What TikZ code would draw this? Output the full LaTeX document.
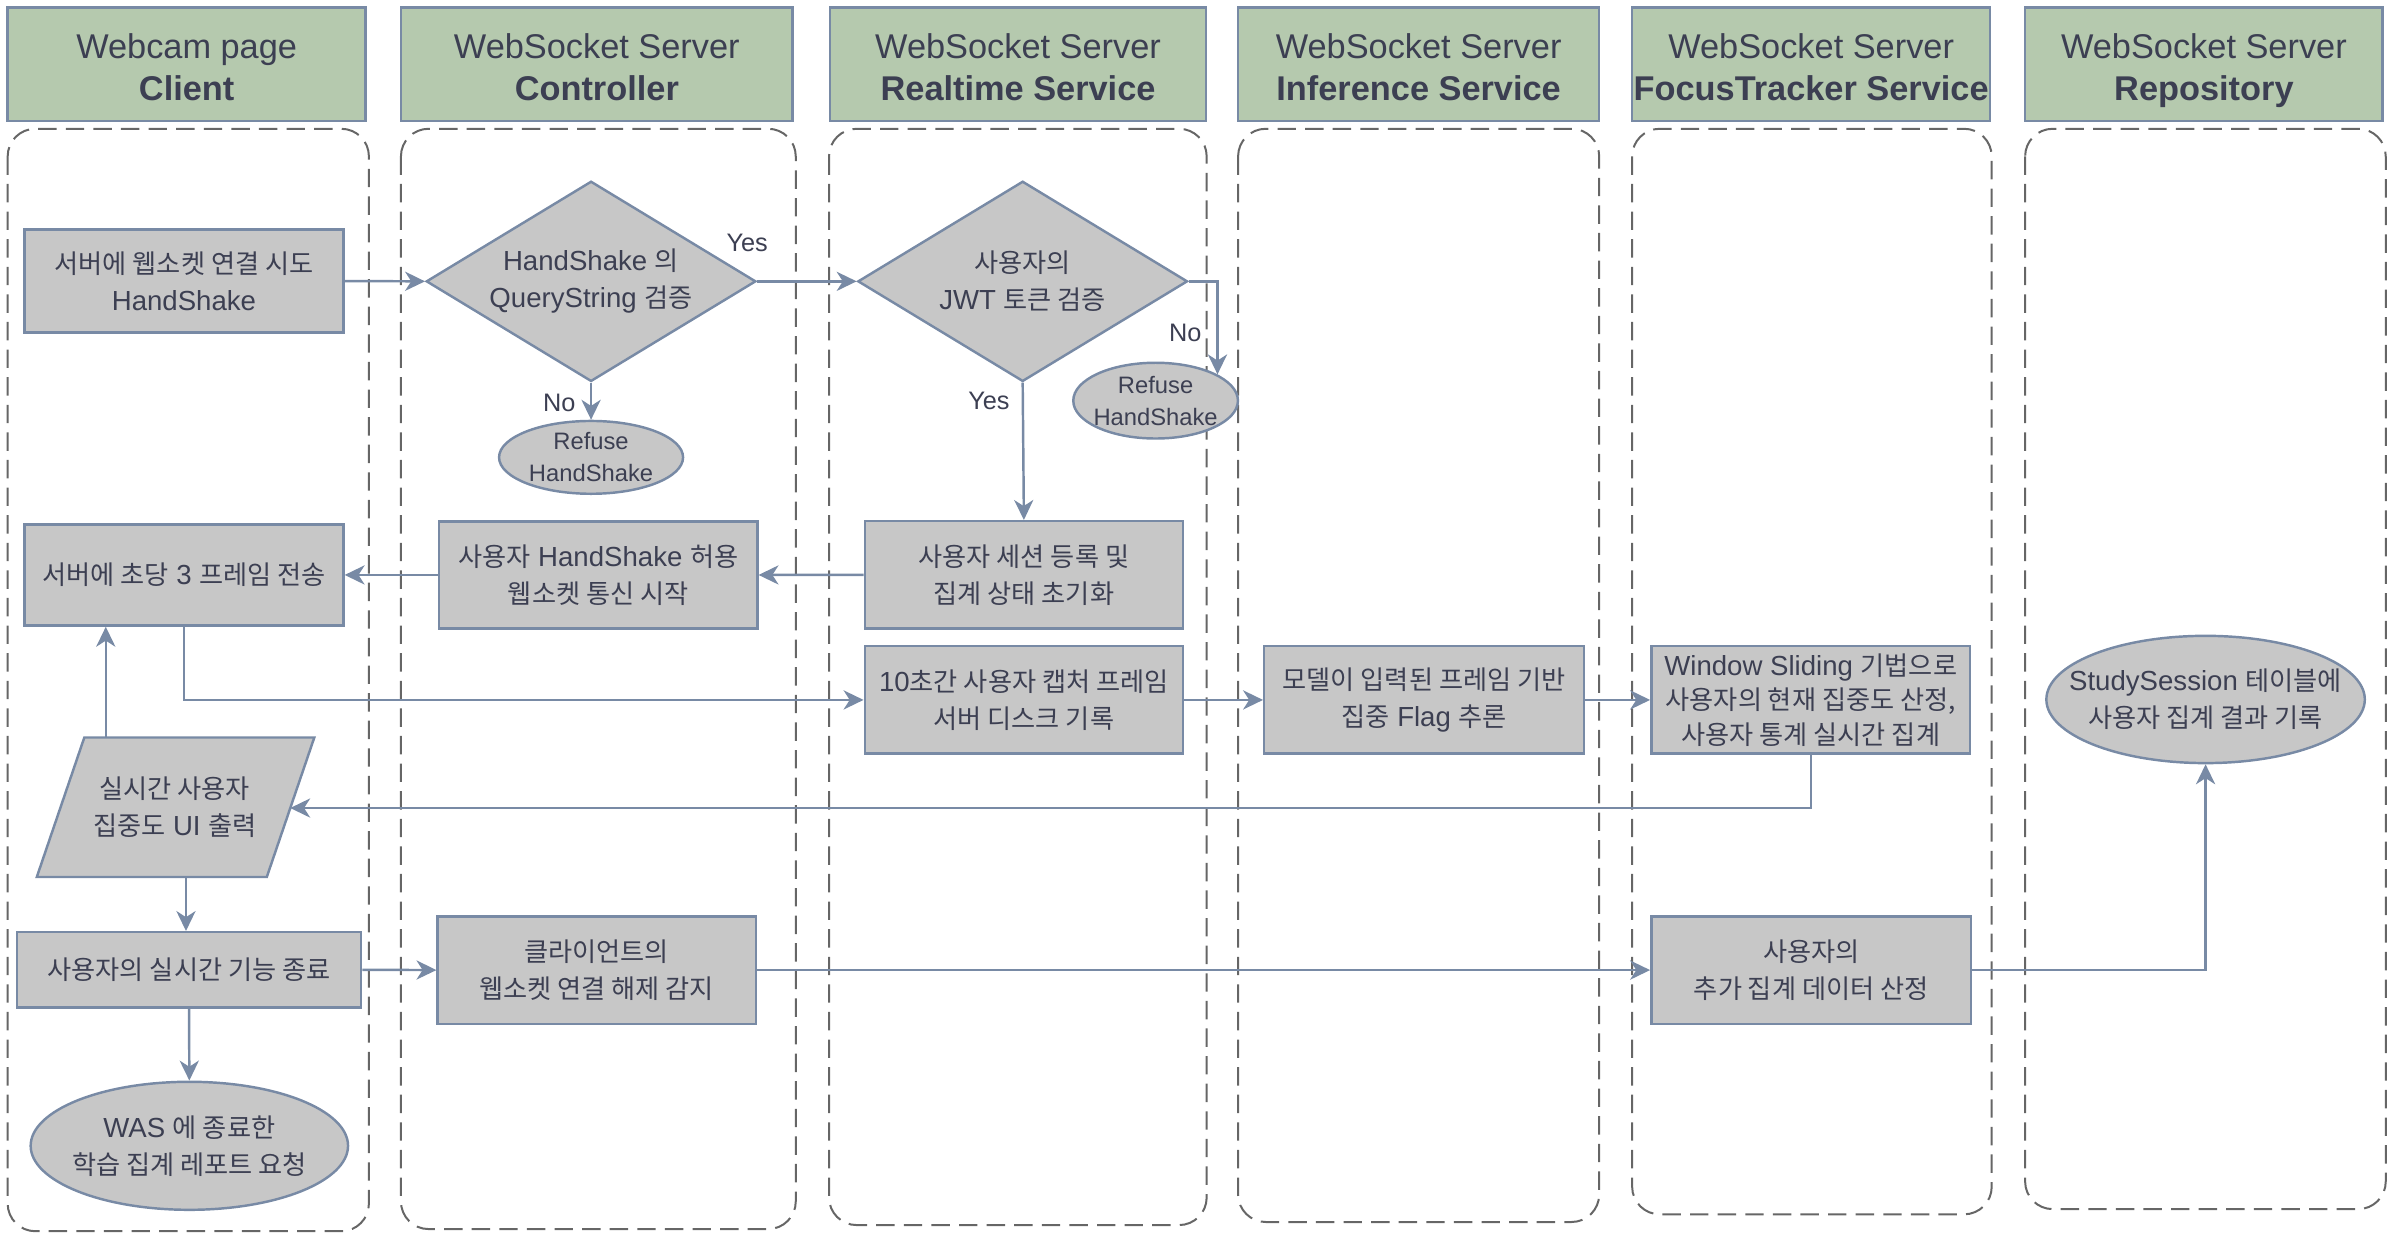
\documentclass[tikz,border=0pt]{standalone}
\usepackage{fontspec}
\setmainfont{Liberation Sans}
\newfontfamily\kr[Scale=0.95]{Noto Sans CJK KR}
\usetikzlibrary{arrows.meta,shapes.geometric}

\definecolor{hdfill}{HTML}{B5C9AE}
\definecolor{boxfill}{HTML}{C7C7C7}
\definecolor{edgec}{HTML}{788AA5}
\definecolor{lanec}{HTML}{666666}
\definecolor{txtc}{HTML}{3C3F52}

% header text: first line raised strut, second line with descender room
\newcommand{\hdtext}[2]{\rule{0pt}{24.5pt}#1\\\textbf{#2}\vphantom{p}}

\tikzset{
  header/.style={draw=edgec, line width=1.6pt, fill=hdfill, text=txtc, align=center, inner sep=0pt, font=\fontsize{22.4}{27}\selectfont},
  lane/.style={draw=lanec, line width=1.3pt, dash pattern=on 12pt off 6pt, rounded corners=18pt},
  procbox/.style={draw=edgec, line width=1.6pt, fill=boxfill, text=txtc, align=center, inner sep=1pt, font=\fontsize{18}{24}\selectfont},
  decision/.style={diamond, aspect=1.65, draw=edgec, line width=1.6pt, fill=boxfill, text=txtc, align=center, inner sep=0pt, font=\fontsize{18}{24}\selectfont},
  terminal/.style={ellipse, draw=edgec, line width=1.6pt, fill=boxfill, inner sep=0pt},
  termtext/.style={text=txtc, align=center, font=\fontsize{18}{24}\selectfont},
  refusetext/.style={text=txtc, align=center, font=\fontsize{15.5}{21}\selectfont},
  boxtext/.style={text=txtc, align=center, font=\fontsize{18}{24}\selectfont},
  edgelabel/.style={text=txtc, inner sep=0pt, font=\fontsize{16.5}{20}\selectfont},
  arr/.style={draw=edgec, line width=1.6pt, -{Stealth[length=13pt,width=12.5pt,inset=4pt]}},
}

\begin{document}
\begin{tikzpicture}[x=1pt,y=-1pt]
\useasboundingbox (0,0) rectangle (1564,810);

%%%%%%%%%%%%%%%%%%%%%%%%%%%%%%%%%%%%%%%%%%%%%%%%%%%%%%%%%%%%%%%%%
%%%%%%%%%%%%%%%%%%%%%%%%%%%%%% lanes
\draw [lane] (5,84) rectangle (240.6,803);
\draw [lane] (261.5,84) rectangle (519,801.6);
\draw [lane] (540.7,84) rectangle (787,799);
\draw [lane] (807.5,84) rectangle (1043,797);
\draw [lane] (1064.5,84) rectangle (1299,792);
\draw [lane] (1320.8,84) rectangle (1556,788.6);

\node [header, minimum width=233.5pt, minimum height=74pt] (hdclient) at (121.75,42) {\hdtext{Webcam page}{Client}};
\node [header, minimum width=255.5pt, minimum height=74pt] (hdctrl) at (389.25,42) {\hdtext{WebSocket Server}{Controller}};
\node [header, minimum width=245pt, minimum height=74pt] (hdrt) at (664,42) {\hdtext{WebSocket Server}{Realtime Service}};
\node [header, minimum width=235.5pt, minimum height=74pt] (hdinf) at (925.25,42) {\hdtext{WebSocket Server}{Inference Service}};
\node [header, minimum width=233.5pt, minimum height=74pt] (hdfocus) at (1181.25,42) {\hdtext{WebSocket Server}{FocusTracker Service}};
\node [header, minimum width=233.2pt, minimum height=74pt] (hdrepo) at (1437.4,42) {\hdtext{WebSocket Server}{Repository}};

%%%%%%%%%%%%%%%%%%%%%%%%%%%%%%%%%%%%%%%%%%%%%%%%%%%%%%%%%%%%%%%%%
%%%%%%%%%%%%%%%%%%%%%%%%%%%%%% client
\node [procbox, minimum width=208pt, minimum height=67pt] (connect) at (120,183.3) {{\kr 서버에 웹소켓 연결 시도}\\HandShake};
\node [procbox, minimum width=208pt, minimum height=66pt] (sendfps) at (120,375) {{\kr 서버에 초당} 3 {\kr 프레임 전송}};

\coordinate (uitl) at (55,481);
\coordinate (uitr) at (205,481);
\coordinate (uibr) at (174,572);
\coordinate (uibl) at (24,572);
\draw [procbox] (uitl) -- (uitr) -- (uibr) -- (uibl) -- cycle;
\node [boxtext] (uiout) at (114,526.5) {{\kr 실시간 사용자}\\{\kr 집중도} UI {\kr 출력}};
\coordinate (uitop) at (69,481);
\coordinate (uibot) at (121.3,572);
\coordinate (uiright) at (189.3,527);

\node [procbox, minimum width=224.6pt, minimum height=49pt] (endrt) at (123.3,632.5) {{\kr 사용자의 실시간 기능 종료}};
\node [terminal, minimum width=207pt, minimum height=83.5pt, label={[termtext]center:{WAS {\kr 에 종료한}\\{\kr 학습 집계 레포트 요청}}}] (wasreport) at (123.5,747.3) {};

%%%%%%%%%%%%%%%%%%%%%%%%%%%%%%%%%%%%%%%%%%%%%%%%%%%%%%%%%%%%%%%%%
%%%%%%%%%%%%%%%%%%%%%%%%%%%%%% controller
\node [decision, minimum width=215pt, minimum height=130.6pt] (hsdiamond) at (385.5,183.5) {HandShake {\kr 의}\\QueryString {\kr 검증}};
\node [terminal, minimum width=120pt, minimum height=47.5pt, label={[refusetext]center:{Refuse\\HandShake}}] (refuse1) at (385.5,298.3) {};
\node [procbox, minimum width=207.5pt, minimum height=70pt] (hsallow) at (390.2,375) {{\kr 사용자} HandShake {\kr 허용}\\{\kr 웹소켓 통신 시작}};
\node [procbox, minimum width=207.5pt, minimum height=70pt] (disconnect) at (389.2,632.7) {{\kr 클라이언트의}\\{\kr 웹소켓 연결 해제 감지}};

%%%%%%%%%%%%%%%%%%%%%%%%%%%%%%%%%%%%%%%%%%%%%%%%%%%%%%%%%%%%%%%%%
%%%%%%%%%%%%%%%%%%%%%%%%%%%%%% realtime service
\node [decision, minimum width=215pt, minimum height=130.6pt] (jwtdiamond) at (667,183.5) {{\kr 사용자의}\\JWT {\kr 토큰 검증}};
\node [terminal, minimum width=107.4pt, minimum height=49.4pt, label={[refusetext]center:{Refuse\\HandShake}}] (refuse2) at (753.7,261.3) {};
\node [procbox, minimum width=207.6pt, minimum height=70pt] (session) at (667.8,374.9) {{\kr 사용자 세션 등록 및}\\{\kr 집계 상태 초기화}};
\node [procbox, minimum width=207.6pt, minimum height=70pt] (capture) at (667.8,456.5) {10{\kr 초간 사용자 캡처 프레임}\\{\kr 서버 디스크 기록}};

%%%%%%%%%%%%%%%%%%%%%%%%%%%%%%%%%%%%%%%%%%%%%%%%%%%%%%%%%%%%%%%%%
%%%%%%%%%%%%%%%%%%%%%%%%%%%%%% inference / focustracker / repository
\node [procbox, minimum width=208.5pt, minimum height=70pt] (infer) at (928.8,456.5) {{\kr 모델이 입력된 프레임 기반}\\{\kr 집중} Flag {\kr 추론}};
\node [procbox, minimum width=208pt, minimum height=70pt, font=\fontsize{18}{22.5}\selectfont] (window) at (1181,456.5) {Window Sliding {\kr 기법으로}\\{\kr 사용자의 현재 집중도 산정,}\\{\kr 사용자 통계 실시간 집계}};
\node [procbox, minimum width=208.6pt, minimum height=70pt] (extra) at (1181.3,632.7) {{\kr 사용자의}\\{\kr 추가 집계 데이터 산정}};
\node [terminal, minimum width=207.7pt, minimum height=83pt, label={[termtext]center:{StudySession {\kr 테이블에}\\{\kr 사용자 집계 결과 기록}}}] (studyrec) at (1438.5,456.2) {};

%%%%%%%%%%%%%%%%%%%%%%%%%%%%%%%%%%%%%%%%%%%%%%%%%%%%%%%%%%%%%%%%%
%%%%%%%%%%%%%%%%%%%%%%%%%%%%%% connectors
\draw [arr] (connect.east) -- (hsdiamond.west);
\draw [arr] (hsdiamond.east) -- (jwtdiamond.west);
\node [edgelabel] (yes1) at (487.3,158.5) {Yes};
\draw [arr] (hsdiamond.south) -- (refuse1.north);
\node [edgelabel] (no1) at (364.7,263) {No};

\draw [arr] (jwtdiamond.east) -| (refuse2.23);
\node [edgelabel] (no2) at (773,217) {No};
\draw [arr] (jwtdiamond.south) -- (session.north);
\node [edgelabel] (yes2) at (645,261.6) {Yes};

\draw [arr] (session.west) -- (hsallow.east);
\draw [arr] (hsallow.west) -- (sendfps.east);
\draw [arr] (sendfps.south) |- (capture.west);
\draw [arr] (capture.east) -- (infer.west);
\draw [arr] (infer.east) -- (window.west);
\draw [arr] (window.south) |- (uiright);
\draw [arr] (uitop) -- (sendfps.south -| uitop);

\draw [arr] (uibot) -- (uibot |- endrt.north);
\draw [arr] (endrt.south) -- (wasreport.north);
\draw [arr] (endrt.east) -- (disconnect.west);
\draw [arr] (disconnect.east) -- (extra.west);
\draw [arr] (extra.east) -| (studyrec.south);

%%%%%%%%%%%%%%%%%%%%%%%%%%%%%%%%%%%%%%%%%%%%%%%%%%%%%%%%%%%%%%%%%

\end{tikzpicture}
\end{document}
